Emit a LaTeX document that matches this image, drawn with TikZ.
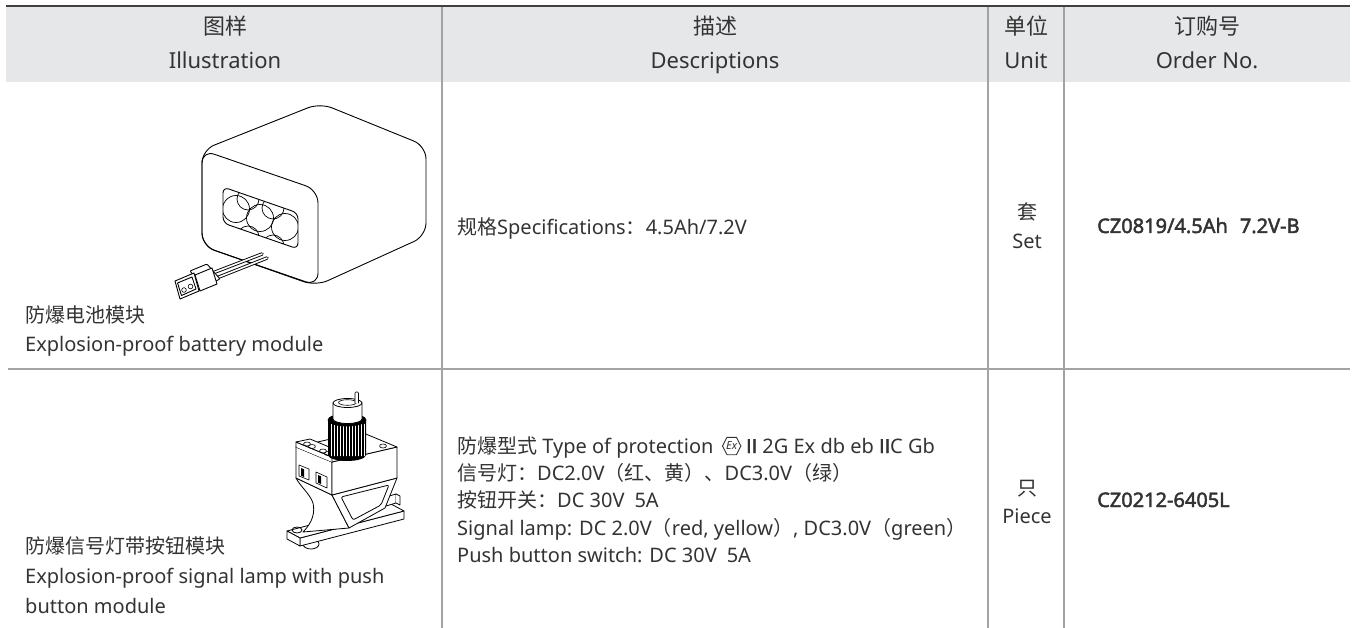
\documentclass[tikz,border=0pt]{standalone}
\usepackage{fontspec}
\setmainfont{Noto Sans}[AutoFakeBold=2.2]
\newfontfamily\cjk{Noto Sans CJK SC}
\newfontfamily\barf{Liberation Sans}[AutoFakeBold=1.5]
\newcommand\zh[1]{{\cjk #1}}
\newcommand\bII{{\barf\bfseries II}}
\definecolor{txt}{HTML}{333333}
\definecolor{rulec}{HTML}{A3A3A3}
\definecolor{hdrc}{HTML}{E6E7E9}
\begin{document}
\begin{tikzpicture}[x=1pt,y=-1pt,
  hd/.style={font=\fontsize{22}{26}\selectfont, text=txt, anchor=base, inner sep=0pt},
  bd/.style={font=\fontsize{20}{24}\selectfont, text=txt, anchor=base west, inner sep=0pt},
  bc/.style={font=\fontsize{20}{24}\selectfont, text=txt, anchor=base, inner sep=0pt},
  bo/.style={font=\fontsize{20}{24}\selectfont\bfseries, text=txt, anchor=base west, inner sep=0pt},
  tline/.style={rulec, line width=1.2pt},
  ink/.style={line width=0.9pt, line join=round, line cap=round},
  exs/.style={minimum width=18pt, minimum height=17pt, inner sep=0pt, text=txt, font=\fontsize{11}{11}\selectfont\itshape}
]
\useasboundingbox (0,0) rectangle (1356,628);
\fill[white] (0,0) rectangle (1356,628);

% ---------- table ----------
\fill[hdrc] (6,7) rectangle (1350,82);
\draw[tline] (442,6) -- (442,628);
\draw[tline] (988,6) -- (988,628);
\draw[tline] (1064,6) -- (1064,628);
\draw[tline] (8,369) -- (1350,369);
\draw[black!75, line width=2pt] (6,6) -- (1350,6);

% ---------- header ----------
\node[hd] (h1a) at (225,35) {\zh{图样}};
\node[hd] (h1b) at (225,69) {Illustration};
\node[hd] (h2a) at (715,35) {\zh{描述}};
\node[hd] (h2b) at (715,69) {Descriptions};
\node[hd] (h3a) at (1026,35) {\zh{单位}};
\node[hd] (h3b) at (1026,69) {Unit};
\node[hd] (h4a) at (1207,35) {\zh{订购号}};
\node[hd] (h4b) at (1207,69) {Order No.};

% ---------- row 1 ----------
\node[bd] (n1a) at (25,322) {\zh{防爆电池模块}};
\node[bd] (n1b) at (25,351) {Explosion-proof battery module};
\node[bd] (d1) at (457,235) {\zh{规格}Specifications\zh{：}4.5Ah/7.2V};
\node[bc] (u1a) at (1027,220) {\zh{套}};
\node[bc] (u1b) at (1027,248) {Set};
\node[bo] (o1) at (1097,233) {CZ0819/4.5Ah\hspace{12pt}7.2V-B};

% ---------- row 2 ----------
\node[bd] (n2a) at (25,553) {\zh{防爆信号灯带按钮模块}};
\node[bd] (n2b) at (25,583) {Explosion-proof signal lamp with push};
\node[bd] (n2c) at (25,613) {button module};
\node[bd] (d2a) at (457,453) {\zh{防爆型式} Type of protection};
\node[exs] (ex) at ([xshift=18pt,yshift=7pt]d2a.base east) {Ex};
\draw[txt, line width=0.9pt, line join=round] (ex.west) -- ([xshift=4.5pt]ex.north west) -- ([xshift=-4.5pt]ex.north east) -- (ex.east) -- ([xshift=-4.5pt]ex.south east) -- ([xshift=4.5pt]ex.south west) -- cycle;
\node[bd] (d2b) at ([xshift=5pt]ex.east |- d2a.base) {\bII\ 2G Ex db eb \bII C Gb};
\node[bd] (d2c) at (457,480) {\zh{信号灯：}DC2.0V\zh{（红、黄）、}DC3.0V\zh{（绿）}};
\node[bd] (d2d) at (457,507) {\zh{按钮开关：}DC 30V\hspace{10pt}5A};
\node[bd] (d2e) at (457,535) {Signal lamp: DC 2.0V\zh{（}red, yellow\zh{）}, DC3.0V\zh{（}green\zh{）}};
\node[bd] (d2f) at (457,562) {Push button switch: DC 30V\hspace{10pt}5A};
\node[bc] (u2a) at (1027,495) {\zh{只}};
\node[bc] (u2b) at (1027,523) {Piece};
\node[bo] (o2) at (1097,507) {CZ0212-6405L};

% ---------- battery illustration ----------
\begin{scope}[ink]
  \draw[fill=white, rounded corners=13pt] (202,200) -- (202,150) -- (320,103) -- (426,146) -- (426,236) -- (316,286) -- (202,246) -- cycle;
  \draw[rounded corners=13pt] (202,200) -- (202,150) -- (318,190) -- (318,286) -- (202,246) -- cycle;
  \draw[rounded corners=6pt] (223,205) -- (223,187) -- (298,213) -- (298,249) -- (223,223) -- cycle;
  \begin{scope}
    \clip[rounded corners=6pt] (223,205) -- (223,187) -- (298,213) -- (298,249) -- (223,223) -- cycle;
    \draw[line width=0.7pt] (236,209) circle (13.5);
    \draw[line width=0.7pt] (260,218) circle (13.5);
    \draw[line width=0.7pt] (285,227) circle (13.5);
    \draw[line width=0.7pt] (248,199) circle (11);
    \draw[line width=0.7pt] (273,208) circle (11);
    \draw[line width=0.7pt] (248,237) circle (11);
    \draw[line width=0.7pt] (273,246) circle (11);
  \end{scope}
  % wires
  \draw[line width=3.4pt] (262,254) -- (210,274);
  \draw[white, line width=1.6pt] (262,254) -- (210,274);
  \draw[line width=3.4pt] (267,258) -- (214,279);
  \draw[white, line width=1.6pt] (267,258) -- (214,279);
  % connector
  \draw[fill=white, rounded corners=1pt] (190,271) -- (207,264) -- (220,279) -- (203,287) -- cycle;
  \draw[fill=white] (195,275) -- (212,268) -- (217,284) -- (200,291) -- cycle;
  \draw[fill=white] (175,281) -- (194,273) -- (199,291) -- (180,299) -- cycle;
  \draw[fill=white] (177.5,283) -- (192,277) -- (196,289) -- (181.5,295.5) -- cycle;
  \draw[line width=0.6pt] (184,290) circle (2.3);
  \draw[line width=0.6pt] (190.5,286.5) circle (2.3);
\end{scope}

% ---------- signal lamp module illustration ----------
\begin{scope}[ink, line width=0.8pt]
  % latch under base
  \draw[fill=white] (311,544) ellipse (8 and 5);
  % base plate
  \draw[fill=white] (300,546) -- (404,519) -- (404,511) -- (300,538) -- cycle;
  \draw[fill=white] (300,538) -- (404,511) -- (391,504) -- (287,531) -- cycle;
  \draw[fill=white] (300,546) -- (300,538) -- (287,531) -- (287,539) -- cycle;
  \draw (297,530) ellipse (5 and 3);
  \draw[fill=white] (386,506) -- (386,497) -- (396,494) -- (396,503) -- cycle;
  \draw[fill=white] (396,494) -- (400,496) -- (400,505) -- (396,503);
  % lower body left face
  \draw[fill=white] (296,478) -- (332,495) -- (349,528) -- (303,532)
     .. controls (313,522) and (315,512) .. (313,503)
     .. controls (310,494) and (300,486) .. (296,478) -- cycle;
  % lower body right face
  \draw[fill=white] (332,495) -- (397,478) -- (385,508) -- (349,528) -- cycle;
  \draw[rounded corners=2pt] (341,497) -- (389,485) -- (381,505) -- (353,520) -- cycle;
  % top block
  \draw[fill=white] (296,447) -- (332,462) -- (332,495) -- (296,478) -- cycle;
  \draw[fill=white] (332,462) -- (397,447) -- (397,478) -- (332,495) -- cycle;
  \draw[fill=white] (296,447) -- (332,462) -- (397,447) -- (361,432) -- cycle;
  % terminal strip
  \draw[fill=white] (296,447) -- (296,442) -- (332,457) -- (332,462);
  \draw[fill=white] (296,442) -- (332,457) -- (346,454) -- (310,439) -- cycle;
  \draw[line width=0.6pt] (307,444) ellipse (3.5 and 2);
  \draw[line width=0.6pt] (312,446.5) ellipse (3.5 and 2);
  \draw[line width=0.6pt] (323,451) ellipse (3.5 and 2);
  \draw[line width=0.6pt] (328,453.5) ellipse (3.5 and 2);
  \draw[line width=0.6pt] (383,446) ellipse (3.5 and 2);
  % terminal slots
  \draw[fill=white, line width=0.6pt] (299,465) -- (309,469) -- (309,480) -- (299,476) -- cycle;
  \fill[black] (301,468) -- (304,469.3) -- (304,477) -- (301,475.7) -- cycle;
  \draw[fill=white, line width=0.6pt] (316,472) -- (327,477) -- (327,488) -- (316,483) -- cycle;
  \fill[black] (318,475) -- (321,476.3) -- (321,484) -- (318,482.7) -- cycle;
  % knob
  \fill[black] (328,420) -- (328,455) arc[start angle=180, end angle=0, x radius=19, y radius=6] -- (366,420) -- cycle;
  \foreach \k in {331,334,...,364} \draw[white, line width=0.45pt] (\k,424) -- (\k,456);
  \draw[fill=black] (347,420) ellipse (19 and 6);
  % cap
  \draw[fill=white] (333,403) -- (333,419) arc[start angle=180, end angle=0, x radius=14.5, y radius=4.5] -- (362,403);
  \draw[fill=white] (347.5,403) ellipse (14.5 and 4.5);
  \draw[line width=0.6pt] (347.5,402.5) ellipse (9 and 2.8);
  % pin
  \draw[fill=white, line width=0.6pt, rounded corners=1pt] (355,403) -- (355,392) -- (358.5,392) -- (358.5,403);
\end{scope}
\end{tikzpicture}
\end{document}
